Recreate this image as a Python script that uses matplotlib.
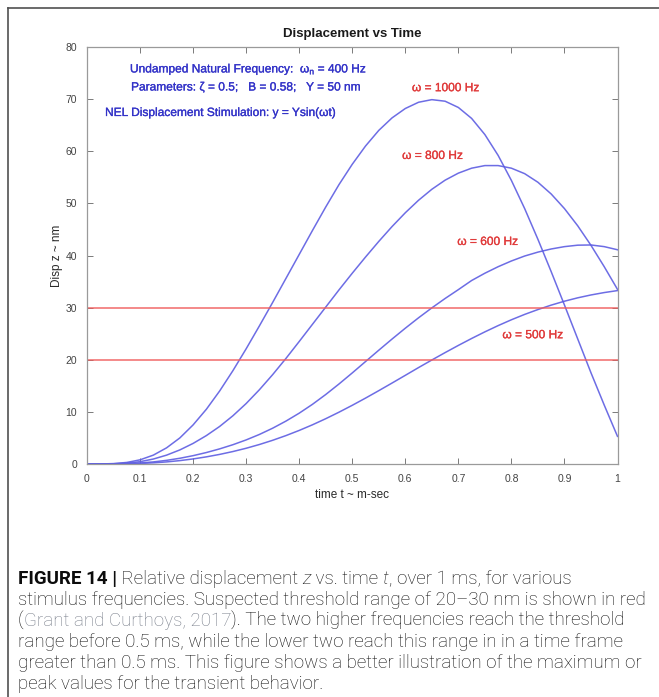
import numpy as np
import matplotlib
matplotlib.use("Agg")
import matplotlib.pyplot as plt
import matplotlib.patheffects as pe

W, H, DPI = 659, 697, 100

plt.rcParams["font.family"] = ["Liberation Sans", "DejaVu Sans"]
plt.rcParams["mathtext.fontset"] = "custom"
plt.rcParams["mathtext.rm"] = "Liberation Sans"
plt.rcParams["mathtext.it"] = "Liberation Sans:italic"
plt.rcParams["mathtext.bf"] = "Liberation Sans:bold"

# sample times (ms)
time_ms = np.linspace(0.0, 1.0, 41)

# relative displacement z (nm) for each stimulus frequency
disp_1000 = [0.0, 0.0, 0.08, 0.3, 0.8, 1.7, 3.1, 5.0, 7.5, 10.5,
             14.0, 17.9, 22.1, 26.5, 31.0, 35.6, 40.2, 44.8, 49.3, 53.6,
             57.5, 61.0, 64.0, 66.4, 68.2, 69.4, 69.9, 69.6, 68.4, 66.3,
             63.2, 59.2, 54.4, 49.0, 43.1, 36.9, 30.5, 24.0, 17.5, 11.3,
             5.3]
disp_800 = [0.0, 0.0, 0.04, 0.15, 0.45, 0.95, 1.7, 2.7, 3.95, 5.45,
            7.2, 9.25, 11.6, 14.25, 17.15, 20.25, 23.5, 26.8, 30.1, 33.4,
            36.6, 39.7, 42.7, 45.55, 48.2, 50.6, 52.7, 54.45, 55.8, 56.75,
            57.25, 57.25, 56.75, 55.7, 54.05, 51.8, 49.0, 45.7, 41.95, 37.85,
            33.5]
disp_600 = [0.0, 0.0, 0.02, 0.08, 0.2, 0.4, 0.7, 1.1, 1.6, 2.2,
            2.9, 3.7, 4.62, 5.67, 6.87, 8.23, 9.75, 11.45, 13.33, 15.35,
            17.47, 19.65, 21.83, 23.97, 26.05, 28.05, 29.95, 31.75, 33.45, 35.2,
            36.6, 37.85, 38.95, 39.9, 40.65, 41.25, 41.7, 41.98, 42.02, 41.7,
            41.1]
disp_500 = [0.0, 0.0, 0.01, 0.04, 0.1, 0.22, 0.4, 0.65, 0.97, 1.37,
            1.84, 2.39, 3.02, 3.74, 4.55, 5.45, 6.44, 7.52, 8.69, 9.94,
            11.26, 12.64, 14.07, 15.53, 17.01, 18.5, 19.95, 21.37, 22.75, 24.08,
            25.35, 26.55, 27.67, 28.7, 29.63, 30.48, 31.23, 31.88, 32.43, 32.89,
            33.27]

series = [disp_1000, disp_800, disp_600, disp_500]
freq_labels = ["\u03c9 = 1000 Hz", "\u03c9 = 800 Hz",
               "\u03c9 = 600 Hz", "\u03c9 = 500 Hz"]
label_t = [0.6125, 0.594, 0.698, 0.783]
label_z = [72.1, 59.1, 42.6, 24.7]

threshold_levels = [20, 30]

x_ticks = [0, 0.1, 0.2, 0.3, 0.4, 0.5, 0.6, 0.7, 0.8, 0.9, 1.0]
x_tick_labels = ["0", "0.1", "0.2", "0.3", "0.4", "0.5", "0.6", "0.7",
                 "0.8", "0.9", "1"]
y_ticks = [0, 10, 20, 30, 40, 50, 60, 70, 80]
y_tick_labels = ["0", "10", "20", "30", "40", "50", "60", "70", "80"]

curve_color = "#5d5de2"
thresh_color = "#f05a5a"
label_red = "#e03a3a"
note_blue = "#3333c8"
frame_gray = "#9a9a9a"

fig = plt.figure(figsize=(W / DPI, H / DPI), dpi=DPI)
fig.patch.set_facecolor("white")


def fx(px):
    return px / W


def fy(py):
    return 1 - py / H


ax_l, ax_r, ax_t, ax_b = 87, 617.5, 47, 464
ax = fig.add_axes([fx(ax_l), fy(ax_b), (ax_r - ax_l) / W, (ax_b - ax_t) / H])


def z_at(py):
    return (ax_b - py) / (ax_b - ax_t) * 80


for vals in series:
    ax.plot(time_ms, vals, color=curve_color, lw=1.1, alpha=0.9)
for lev in threshold_levels:
    ax.axhline(lev, color=thresh_color, lw=1.1, alpha=0.9)

ax.set_xlim(0, 1)
ax.set_ylim(0, 80)
ax.set_xticks(x_ticks)
ax.set_xticklabels(x_tick_labels)
ax.set_yticks(y_ticks)
ax.set_yticklabels(y_tick_labels)
ax.tick_params(direction="in", top=True, right=True, length=4, width=0.7,
               color="#7a7a7a", labelcolor="#444444", labelsize=7.5, pad=7)
for sp in ax.spines.values():
    sp.set_color(frame_gray)
    sp.set_linewidth(0.9)

ax.set_title("Displacement vs Time", fontsize=9.5, fontweight="bold",
             color="#1a1a1a", pad=7)
ax.set_xlabel("time t ~ m-sec", fontsize=8.5, color="#2a2a2a")
ax.xaxis.set_label_coords(0.5, -(489 - ax_b) / (ax_b - ax_t))
ax.set_ylabel("Disp z ~ nm", fontsize=8.5, color="#2a2a2a")
ax.yaxis.set_label_coords((63 - ax_l) / (ax_r - ax_l), 0.5)


def note(t, z, s, color):
    txt = ax.text(t, z, s, color=color, fontsize=8.6, ha="left", va="center")
    txt.set_path_effects([pe.Stroke(linewidth=0.2, foreground=color), pe.Normal()])
    return txt


for s, t, z in zip(freq_labels, label_t, label_z):
    note(t, z, s, label_red)

note(0.081, z_at(69.5), "Undamped Natural Frequency:  \u03c9$_\\mathrm{n}$ = 400 Hz", note_blue)
note(0.083, z_at(87.5), "Parameters: \u03b6 = 0.5;   B = 0.58;   Y = 50 nm", note_blue)
note(0.034, z_at(113), "NEL Displacement Stimulation: y = Ysin(\u03c9t)", note_blue)

# page frame edges
fig.add_artist(plt.Line2D([fx(8), fx(8)], [fy(8), 0], color="#505050", lw=1.2))
fig.add_artist(plt.Line2D([fx(8), 1], [fy(8), fy(8)], color="#505050", lw=1.2))

# caption
renderer = fig.canvas.get_renderer()
cap_family = ["Roboto", "Liberation Sans", "DejaVu Sans"]
light = dict(family=cap_family, weight="light", color="#0c0c0c")
bold = dict(family=cap_family, weight="bold", color="#0c0c0c")
ital = dict(family=cap_family, weight="light", style="italic", color="#0c0c0c")
link = dict(family=cap_family, weight="light", color="#767c88")


def run_width(s, props, size):
    probe = fig.text(0, 0, "|" + s + "|", fontsize=size, **props)
    base = fig.text(0, 0, "||", fontsize=size, **props)
    w = probe.get_window_extent(renderer).width - base.get_window_extent(renderer).width
    probe.remove()
    base.remove()
    return w


ref_line = "stimulus frequencies. Suspected threshold range of 20\u201330 nm is shown in red"
cap_size = 10.0 * 629.0 / run_width(ref_line, light, 10.0)

caption_lines = [
    [("FIGURE 14 |", bold), (" Relative displacement ", light), ("z", ital),
     (" vs. time ", light), ("t", ital), (", over 1 ms, for various", light)],
    [(ref_line, light)],
    [("(", light), ("Grant and Curthoys, 2017", link),
     ("). The two higher frequencies reach the threshold", light)],
    [("range before 0.5 ms, while the lower two reach this range in in a time frame", light)],
    [("greater than 0.5 ms. This figure shows a better illustration of the maximum or", light)],
    [("peak values for the transient behavior.", light)],
]
base_y = 584
line_gap = 21.0
for i, runs in enumerate(caption_lines):
    x = 18.0
    y = base_y + i * line_gap
    for s, props in runs:
        fig.text(fx(x), fy(y), s, fontsize=cap_size, va="baseline", ha="left", **props)
        x += run_width(s, props, cap_size)

fig.savefig("out.png", dpi=DPI, facecolor="white")
